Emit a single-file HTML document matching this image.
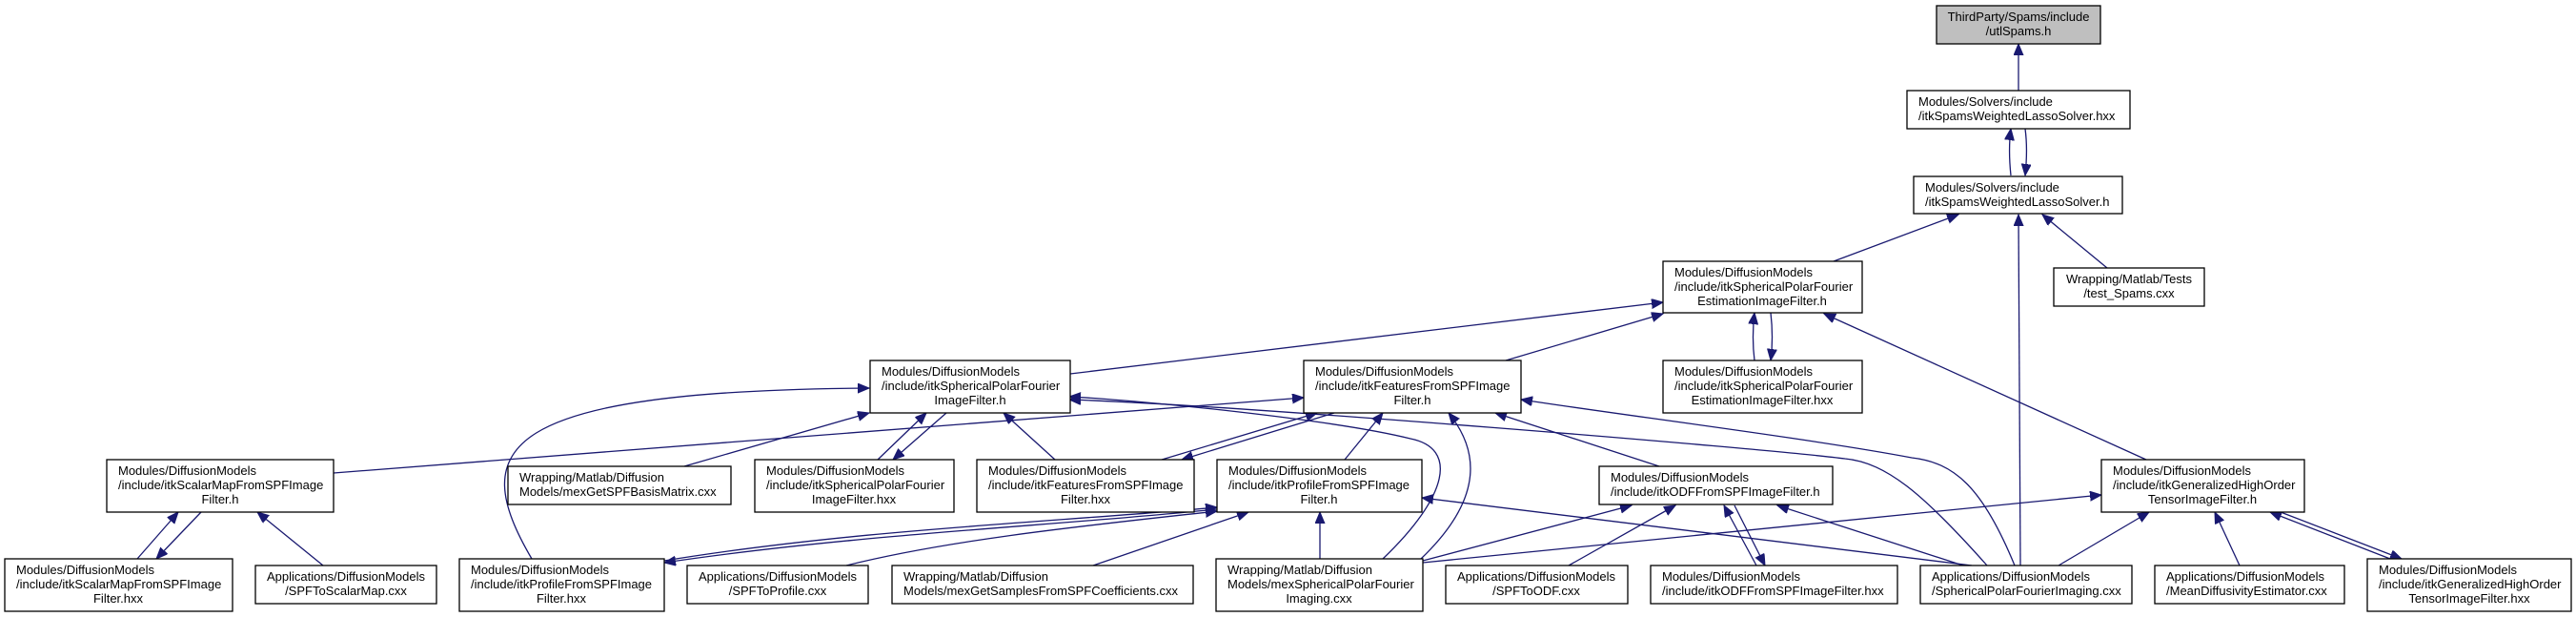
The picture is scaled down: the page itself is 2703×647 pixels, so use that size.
<!DOCTYPE html>
<html><head><meta charset="utf-8"><style>
html,body{margin:0;padding:0;background:#fff;}
svg{display:block;}
text{font-family:"Liberation Sans",sans-serif;font-size:13px;fill:#000;}
.b{fill:#fff;stroke:#000;stroke-width:1.3;}
.e{fill:none;stroke:#191970;stroke-width:1.3;}
</style></head><body>
<svg width="2703" height="647" viewBox="0 0 2703 647" xmlns="http://www.w3.org/2000/svg">
<defs>
<marker id="a" markerUnits="userSpaceOnUse" markerWidth="14" markerHeight="12" refX="12" refY="5" orient="auto">
<path d="M0,0 L12,5 L0,10 Z" fill="#191970" stroke="#191970"/>
</marker>
</defs>
<g class="e">
<path d="M2118,95 L2118,46" marker-end="url(#a)"/>
<path d="M2110,184 C2108,165 2108,150 2110,135" marker-end="url(#a)"/>
<path d="M2125,135 C2127,150 2127,165 2125,184" marker-end="url(#a)"/>
<path d="M1924,274 L2055,225" marker-end="url(#a)"/>
<path d="M2120,593 L2118,225" marker-end="url(#a)"/>
<path d="M2211,281 L2143,225" marker-end="url(#a)"/>
<path d="M1123,392 L1745,317" marker-end="url(#a)"/>
<path d="M1580,378 L1745,329" marker-end="url(#a)"/>
<path d="M1841,378 C1839,362 1839,345 1841,328" marker-end="url(#a)"/>
<path d="M1858,328 C1860,345 1860,362 1858,378" marker-end="url(#a)"/>
<path d="M2252,482 L1914,329" marker-end="url(#a)"/>
<path d="M350,496 L1368,417" marker-end="url(#a)"/>
<path d="M558,586 C490,470 520,410 912,407" marker-end="url(#a)"/>
<path d="M718,489 L912,433" marker-end="url(#a)"/>
<path d="M921,482 L972,433" marker-end="url(#a)"/>
<path d="M993,433 L937,482" marker-end="url(#a)"/>
<path d="M1107,482 L1053,433" marker-end="url(#a)"/>
<path d="M1451,586 C1520,520 1530,470 1480,460 C1400,440 1200,420 1122,416" marker-end="url(#a)"/>
<path d="M2085,593 C2020,520 1980,485 1936,481 C1850,470 1300,425 1122,419" marker-end="url(#a)"/>
<path d="M2114,593 C2080,510 2050,485 2006,480 C1900,460 1700,435 1596,419" marker-end="url(#a)"/>
<path d="M1219,482 L1382,433" marker-end="url(#a)"/>
<path d="M1400,433 L1240,482" marker-end="url(#a)"/>
<path d="M1411,482 L1451,433" marker-end="url(#a)"/>
<path d="M1491,586 C1560,520 1550,470 1520,433" marker-end="url(#a)"/>
<path d="M1741,489 L1569,433" marker-end="url(#a)"/>
<path d="M697,588 C900,555 1100,548 1277,532" marker-end="url(#a)"/>
<path d="M1277,534 C1100,552 900,560 697,590" marker-end="url(#a)"/>
<path d="M888,593 C1000,565 1150,550 1277,536" marker-end="url(#a)"/>
<path d="M1147,593 L1310,537" marker-end="url(#a)"/>
<path d="M1385,586 L1385,537" marker-end="url(#a)"/>
<path d="M2069,593 L1492,522" marker-end="url(#a)"/>
<path d="M2060,593 L1865,530" marker-end="url(#a)"/>
<path d="M1493,588 L1712,530" marker-end="url(#a)"/>
<path d="M1646,593 L1758,530" marker-end="url(#a)"/>
<path d="M1843,593 L1809,530" marker-end="url(#a)"/>
<path d="M1820,530 L1852,593" marker-end="url(#a)"/>
<path d="M1493,590 L2205,519" marker-end="url(#a)"/>
<path d="M2160,593 L2255,537" marker-end="url(#a)"/>
<path d="M2350,593 L2324,537" marker-end="url(#a)"/>
<path d="M2508,586 L2382,537" marker-end="url(#a)"/>
<path d="M2393,537 L2520,586" marker-end="url(#a)"/>
<path d="M144,586 L187,537" marker-end="url(#a)"/>
<path d="M211,537 L164,586" marker-end="url(#a)"/>
<path d="M339,593 L270,537" marker-end="url(#a)"/>
</g>
<g>
<rect x="2032" y="6" width="172" height="40" fill="#bfbfbf" stroke="#000" stroke-width="1.3"/>
<text x="2118" y="22" text-anchor="middle">ThirdParty/Spams/include</text>
<text x="2118" y="37" text-anchor="middle">/utlSpams.h</text>

<rect class="b" x="2001" y="95" width="234" height="40"/>
<text x="2013" y="111">Modules/Solvers/include</text>
<text x="2013" y="126">/itkSpamsWeightedLassoSolver.hxx</text>

<rect class="b" x="2008" y="185" width="219" height="39"/>
<text x="2020" y="201">Modules/Solvers/include</text>
<text x="2020" y="216">/itkSpamsWeightedLassoSolver.h</text>

<rect class="b" x="1745" y="274" width="209" height="54"/>
<text x="1757" y="290">Modules/DiffusionModels</text>
<text x="1757" y="305">/include/itkSphericalPolarFourier</text>
<text x="1849" y="320" text-anchor="middle">EstimationImageFilter.h</text>

<rect class="b" x="2155" y="281" width="158" height="40"/>
<text x="2234" y="297" text-anchor="middle">Wrapping/Matlab/Tests</text>
<text x="2234" y="312" text-anchor="middle">/test_Spams.cxx</text>

<rect class="b" x="1745" y="378" width="209" height="55"/>
<text x="1757" y="394">Modules/DiffusionModels</text>
<text x="1757" y="409">/include/itkSphericalPolarFourier</text>
<text x="1849" y="424" text-anchor="middle">EstimationImageFilter.hxx</text>

<rect class="b" x="913" y="378" width="210" height="55"/>
<text x="925" y="394">Modules/DiffusionModels</text>
<text x="925" y="409">/include/itkSphericalPolarFourier</text>
<text x="1018" y="424" text-anchor="middle">ImageFilter.h</text>

<rect class="b" x="1368" y="378" width="228" height="55"/>
<text x="1380" y="394">Modules/DiffusionModels</text>
<text x="1380" y="409">/include/itkFeaturesFromSPFImage</text>
<text x="1482" y="424" text-anchor="middle">Filter.h</text>

<rect class="b" x="112" y="482" width="238" height="55"/>
<text x="124" y="498">Modules/DiffusionModels</text>
<text x="124" y="513">/include/itkScalarMapFromSPFImage</text>
<text x="231" y="528" text-anchor="middle">Filter.h</text>

<rect class="b" x="533" y="489" width="234" height="40"/>
<text x="545" y="505">Wrapping/Matlab/Diffusion</text>
<text x="545" y="520">Models/mexGetSPFBasisMatrix.cxx</text>

<rect class="b" x="792" y="482" width="209" height="55"/>
<text x="804" y="498">Modules/DiffusionModels</text>
<text x="804" y="513">/include/itkSphericalPolarFourier</text>
<text x="896" y="528" text-anchor="middle">ImageFilter.hxx</text>

<rect class="b" x="1025" y="482" width="228" height="55"/>
<text x="1037" y="498">Modules/DiffusionModels</text>
<text x="1037" y="513">/include/itkFeaturesFromSPFImage</text>
<text x="1139" y="528" text-anchor="middle">Filter.hxx</text>

<rect class="b" x="1277" y="482" width="215" height="55"/>
<text x="1289" y="498">Modules/DiffusionModels</text>
<text x="1289" y="513">/include/itkProfileFromSPFImage</text>
<text x="1384" y="528" text-anchor="middle">Filter.h</text>

<rect class="b" x="1678" y="489" width="245" height="40"/>
<text x="1690" y="505">Modules/DiffusionModels</text>
<text x="1690" y="520">/include/itkODFFromSPFImageFilter.h</text>

<rect class="b" x="2205" y="482" width="213" height="55"/>
<text x="2217" y="498">Modules/DiffusionModels</text>
<text x="2217" y="513">/include/itkGeneralizedHighOrder</text>
<text x="2311" y="528" text-anchor="middle">TensorImageFilter.h</text>

<rect class="b" x="5" y="586" width="239" height="55"/>
<text x="17" y="602">Modules/DiffusionModels</text>
<text x="17" y="617">/include/itkScalarMapFromSPFImage</text>
<text x="124" y="632" text-anchor="middle">Filter.hxx</text>

<rect class="b" x="268" y="593" width="190" height="40"/>
<text x="363" y="609" text-anchor="middle">Applications/DiffusionModels</text>
<text x="363" y="624" text-anchor="middle">/SPFToScalarMap.cxx</text>

<rect class="b" x="482" y="586" width="215" height="55"/>
<text x="494" y="602">Modules/DiffusionModels</text>
<text x="494" y="617">/include/itkProfileFromSPFImage</text>
<text x="589" y="632" text-anchor="middle">Filter.hxx</text>

<rect class="b" x="721" y="593" width="190" height="40"/>
<text x="816" y="609" text-anchor="middle">Applications/DiffusionModels</text>
<text x="816" y="624" text-anchor="middle">/SPFToProfile.cxx</text>

<rect class="b" x="936" y="593" width="316" height="40"/>
<text x="948" y="609">Wrapping/Matlab/Diffusion</text>
<text x="948" y="624">Models/mexGetSamplesFromSPFCoefficients.cxx</text>

<rect class="b" x="1276" y="586" width="217" height="55"/>
<text x="1288" y="602">Wrapping/Matlab/Diffusion</text>
<text x="1288" y="617">Models/mexSphericalPolarFourier</text>
<text x="1384" y="632" text-anchor="middle">Imaging.cxx</text>

<rect class="b" x="1517" y="593" width="191" height="40"/>
<text x="1612" y="609" text-anchor="middle">Applications/DiffusionModels</text>
<text x="1612" y="624" text-anchor="middle">/SPFToODF.cxx</text>

<rect class="b" x="1732" y="593" width="259" height="40"/>
<text x="1744" y="609">Modules/DiffusionModels</text>
<text x="1744" y="624">/include/itkODFFromSPFImageFilter.hxx</text>

<rect class="b" x="2015" y="593" width="222" height="40"/>
<text x="2027" y="609">Applications/DiffusionModels</text>
<text x="2027" y="624">/SphericalPolarFourierImaging.cxx</text>

<rect class="b" x="2261" y="593" width="199" height="40"/>
<text x="2273" y="609">Applications/DiffusionModels</text>
<text x="2273" y="624">/MeanDiffusivityEstimator.cxx</text>

<rect class="b" x="2484" y="586" width="214" height="55"/>
<text x="2496" y="602">Modules/DiffusionModels</text>
<text x="2496" y="617">/include/itkGeneralizedHighOrder</text>
<text x="2591" y="632" text-anchor="middle">TensorImageFilter.hxx</text>
</g>
</svg>
</body></html>
